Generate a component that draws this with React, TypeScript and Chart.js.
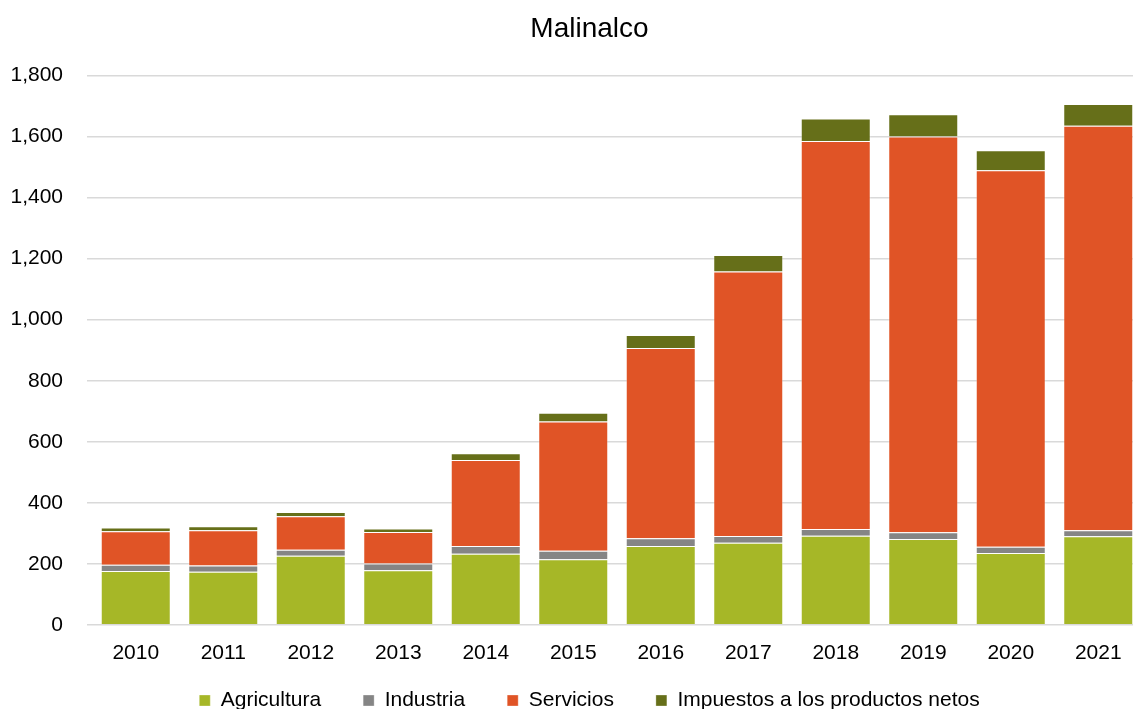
import React, { useEffect, useRef } from "react";
import { Chart, registerables } from "chart.js";

Chart.register(...registerables);

const title = "Malinalco";
const years = ["2010", "2011", "2012", "2013", "2014", "2015", "2016", "2017", "2018", "2019", "2020", "2021"];
const agricultura = [176, 174, 226, 179, 233, 215, 258, 269, 292, 281, 235, 290];
const industria = [21, 20, 20, 22, 25, 28, 26, 22, 22, 22, 21, 20];
const servicios = [110, 116, 110, 103, 282, 423, 623, 867, 1272, 1297, 1234, 1326];
const impuestos = [12, 13, 14, 12, 22, 29, 43, 54, 73, 73, 65, 71];
const seriesNames = ["Agricultura", "Industria", "Servicios", "Impuestos a los productos netos"];
const seriesColors = ["#A6B727", "#858585", "#E05426", "#666F19"];

const legendShift = {
  id: "legendShift",
  afterLayout(chart: any) {
    const lg = chart.legend;
    if (lg) {
      lg.top -= 26;
      lg.bottom -= 26;
    }
  },
};

export default function App() {
  const ref = useRef<HTMLCanvasElement>(null);
  useEffect(() => {
    if (!ref.current) return;
    const font = "'Liberation Sans', Arial, sans-serif";
    const values = [agricultura, industria, servicios, impuestos];
    const chart = new Chart(ref.current, {
      type: "bar",
      data: {
        labels: years,
        datasets: values.map((v, i) => ({
          label: seriesNames[i],
          data: v,
          backgroundColor: seriesColors[i],
          borderColor: "rgba(255,255,255,0.3)",
          borderWidth: 1,
          barPercentage: 0.8,
          categoryPercentage: 1,
        })),
      },
      plugins: [legendShift],
      options: {
        responsive: false,
        animation: false,
        layout: { padding: { left: 11, right: 0, top: 0, bottom: 0 } },
        plugins: {
          title: {
            display: true,
            text: title,
            color: "#000",
            font: { family: font, size: 28, weight: "normal" },
            padding: { top: 12, bottom: 30 },
          },
          legend: {
            position: "bottom",
            labels: {
              color: "#000",
              font: { family: font, size: 21 },
              boxWidth: 11,
              boxHeight: 11,
              padding: 42,
            },
          },
          tooltip: { enabled: false },
        },
        scales: {
          x: {
            stacked: true,
            grid: { display: false },
            border: { display: false },
            ticks: { color: "#000", font: { family: font, size: 21 }, padding: 8 },
          },
          y: {
            stacked: true,
            min: 0,
            max: 1800,
            border: { display: false },
            grid: { color: "#d9d9d9", lineWidth: 1.5, tickLength: 5, tickColor: "#d9d9d9" },
            ticks: {
              stepSize: 200,
              color: "#000",
              padding: 24,
              font: { family: font, size: 21 },
              callback: (v: any) => Number(v).toLocaleString("en-US"),
            },
            afterFit: (s: any) => {
              s.width = 81;
            },
          },
          yRight: {
            position: "right",
            display: true,
            grid: { display: false },
            border: { display: false },
            ticks: { display: false },
            afterFit: (s: any) => {
              s.width = 26;
            },
          },
        },
      },
    });
    return () => chart.destroy();
  }, []);
  return (
    <div style={{ position: "fixed", left: 0, top: 0, width: 1133, height: 709, overflow: "hidden", background: "#fff" }}>
      <canvas ref={ref} width={1168} height={747} style={{ display: "block" }} />
    </div>
  );
}
